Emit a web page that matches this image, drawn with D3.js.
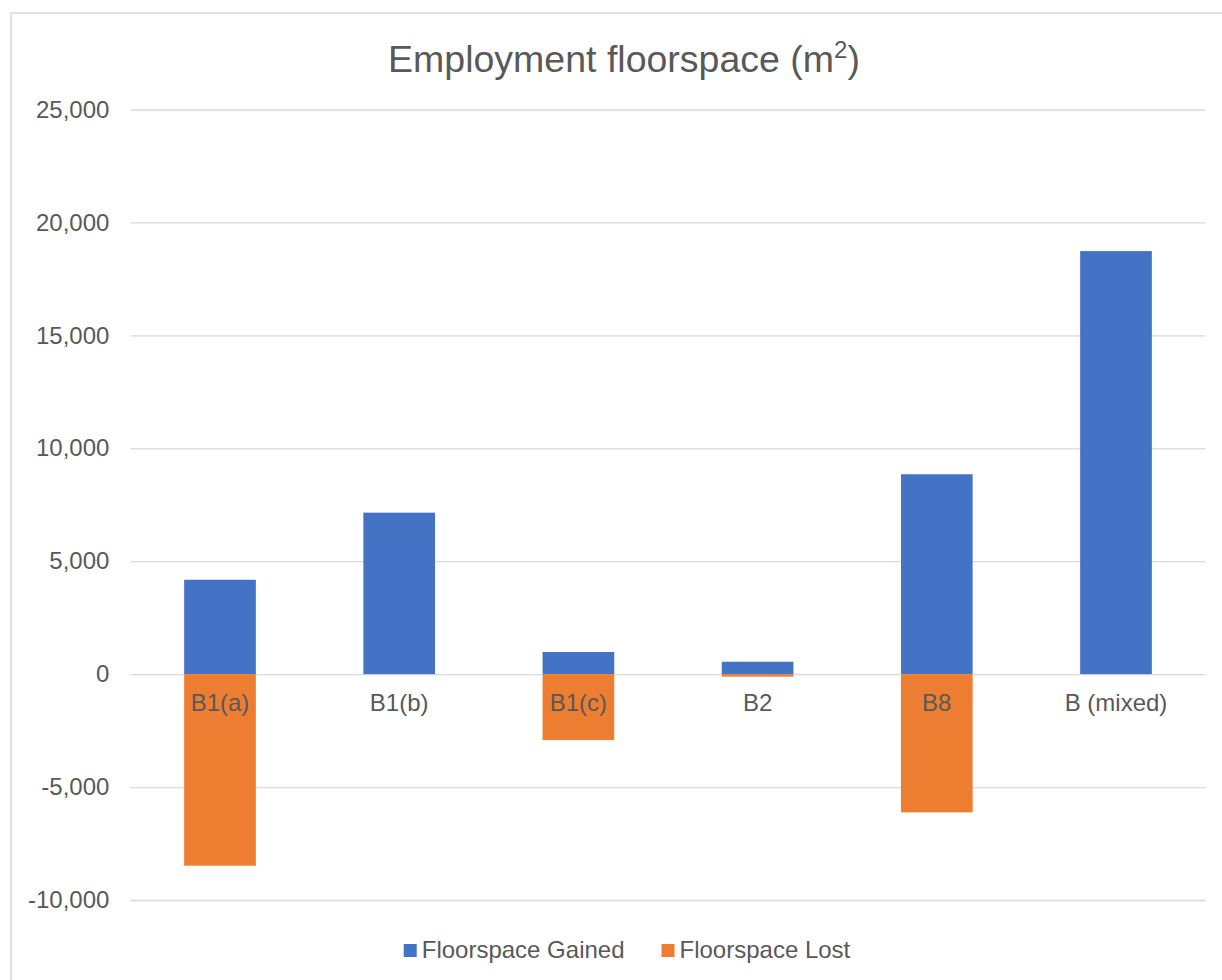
<!DOCTYPE html>
<html>
<head>
<meta charset="utf-8">
<script src="https://cdn.jsdelivr.net/npm/d3@7"></script>
<style>
  body { margin: 0; background: #fff; }
  text { font-family: "Liberation Sans", Arial, sans-serif; fill: #595959; }
</style>
</head>
<body>
<script>
// chart data
const categories = ["B1(a)", "B1(b)", "B1(c)", "B2", "B8", "B (mixed)"];
const gained = [4180, 7150, 980, 550, 8850, 18730];
const lost = [-8480, 0, -2920, -110, -6120, 0];
const seriesNames = ["Floorspace Gained", "Floorspace Lost"];
const seriesColors = ["#4472C4", "#ED7D31"];
const yTicks = [-10000, -5000, 0, 5000, 10000, 15000, 20000, 25000];

const W = 1222, H = 980;
const plot = { left: 130.4, right: 1205.6, top: 109.5, bottom: 900 };

const svg = d3.select("body").append("svg")
    .attr("width", W)
    .attr("height", H);

// chart border (runs off the page right and bottom)
svg.append("rect")
    .attr("x", 11).attr("y", 13)
    .attr("width", 1240).attr("height", 1000)
    .attr("fill", "#fff")
    .attr("stroke", "#d9d9d9")
    .attr("stroke-width", 1.5);

// title
const title = svg.append("text")
    .attr("x", 624).attr("y", 72)
    .attr("text-anchor", "middle")
    .style("font-size", "37.5px");
title.append("tspan").text("Employment floorspace (m");
title.append("tspan").text("2").style("font-size", "24px").attr("dy", -14);
title.append("tspan").text(")").attr("dy", 14);

const x = d3.scaleBand()
    .domain(categories)
    .range([plot.left, plot.right])
    .paddingInner(0.6)
    .paddingOuter(0.3);

const y = d3.scaleLinear()
    .domain([-10000, 25000])
    .range([plot.bottom, plot.top]);

const fmt = d3.formatLocale({ decimal: ".", thousands: ",", grouping: [3], currency: ["", ""], minus: "-" }).format(",");

// y axis + gridlines
const yAxis = svg.append("g")
    .attr("transform", "translate(" + plot.left + ",0)")
    .call(d3.axisLeft(y)
        .tickValues(yTicks)
        .tickFormat(fmt)
        .tickSizeInner(-(plot.right - plot.left))
        .tickSizeOuter(0)
        .tickPadding(21));
yAxis.select(".domain").remove();
yAxis.selectAll("line").attr("stroke", "#d9d9d9").attr("stroke-width", 1.3);
yAxis.selectAll("text")
    .style("font-size", "24px")
    .attr("fill", "#595959")
    .style("font-family", "'Liberation Sans', Arial, sans-serif");

// bars
svg.append("g").selectAll("rect")
    .data(gained)
    .join("rect")
    .attr("x", (d, i) => x(categories[i]))
    .attr("width", x.bandwidth())
    .attr("y", d => y(Math.max(d, 0)))
    .attr("height", d => Math.abs(y(d) - y(0)))
    .attr("fill", seriesColors[0]);

svg.append("g").selectAll("rect")
    .data(lost)
    .join("rect")
    .attr("x", (d, i) => x(categories[i]))
    .attr("width", x.bandwidth())
    .attr("y", d => y(Math.max(d, 0)))
    .attr("height", d => Math.abs(y(d) - y(0)))
    .attr("fill", seriesColors[1]);

// category labels sit just under the zero line
svg.append("g").selectAll("text")
    .data(categories)
    .join("text")
    .attr("x", d => x(d) + x.bandwidth() / 2)
    .attr("y", y(0) + 37)
    .attr("text-anchor", "middle")
    .style("font-size", "24px")
    .text(d => d);

// legend
const legend = svg.append("g");
let lx = 0;
seriesNames.forEach((name, i) => {
    const item = legend.append("g").attr("transform", "translate(" + lx + ",0)");
    item.append("rect")
        .attr("x", 0).attr("y", -14)
        .attr("width", 13).attr("height", 13)
        .attr("fill", seriesColors[i]);
    const t = item.append("text")
        .attr("x", 18).attr("y", 0)
        .style("font-size", "24px")
        .text(name);
    lx += 18 + t.node().getComputedTextLength() + 37;
});
const lw = lx - 37;
legend.attr("transform", "translate(" + (627 - lw / 2) + ",958)");
</script>
</body>
</html>
